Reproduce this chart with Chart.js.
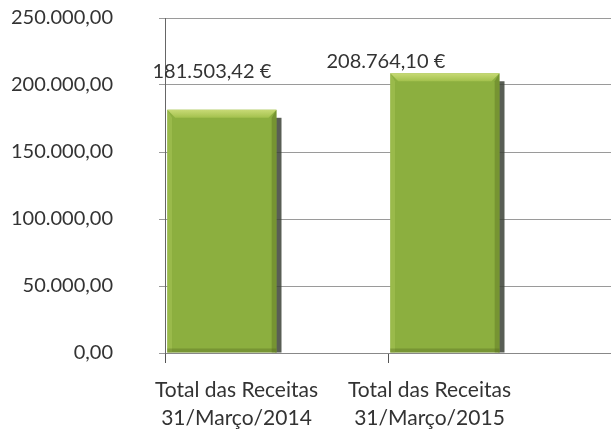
<!DOCTYPE html>
<html><head><meta charset="utf-8">
<script src="https://cdn.jsdelivr.net/npm/chart.js@4.4.1/dist/chart.umd.min.js"></script>
<style>
html,body{margin:0;padding:0;background:#fff;}
#wrap{width:611px;height:435px;position:relative;}
</style></head>
<body><div id="wrap"><canvas id="c" width="611" height="435"></canvas></div>
<script>
const categories = [["Total das Receitas", "31/Março/2014"], ["Total das Receitas", "31/Março/2015"]];
const receitas = [181503.42, 208764.10];
const valueLabels = ["181.503,42 €", "208.764,10 €"];
const yTicks = [0, 50000, 100000, 150000, 200000, 250000];

const fmt = v => Math.round(v).toString().replace(/\B(?=(\d{3})+(?!\d))/g, ".") + ",00";

const GREEN = '#8caf3f';
const FONT = 'Lato, "Open Sans", sans-serif';

const decor = {
  id: 'decor',
  beforeDatasetsDraw(chart) {
    const ctx = chart.ctx;
    const meta = chart.getDatasetMeta(0);
    ctx.save();
    meta.data.forEach(b => {
      const r = b.x + b.width / 2;
      ctx.fillStyle = 'rgba(60,66,55,0.85)';
      ctx.fillRect(r - 1, b.y + 8, 6, b.base - b.y - 8);
    });
    ctx.restore();
  },
  afterDatasetsDraw(chart) {
    const ctx = chart.ctx;
    const meta = chart.getDatasetMeta(0);
    ctx.save();
    meta.data.forEach(b => {
      const w = b.width, l = b.x - w / 2, r = b.x + w / 2, t = b.y;
      const bev = 8;
      const g = ctx.createLinearGradient(0, t, 0, t + bev);
      g.addColorStop(0, '#c8da76');
      g.addColorStop(1, '#a3c14d');
      ctx.fillStyle = g;
      ctx.beginPath();
      ctx.moveTo(l, t); ctx.lineTo(r, t); ctx.lineTo(r - bev, t + bev); ctx.lineTo(l + bev, t + bev); ctx.closePath();
      ctx.fill();
      ctx.fillStyle = 'rgba(170,200,90,0.45)';
      ctx.beginPath();
      ctx.moveTo(l, t); ctx.lineTo(l + bev * 0.6, t + bev); ctx.lineTo(l + bev * 0.6, b.base); ctx.lineTo(l, b.base); ctx.closePath();
      ctx.fill();
      ctx.fillStyle = 'rgba(90,115,35,0.45)';
      ctx.beginPath();
      ctx.moveTo(r, t); ctx.lineTo(r - bev * 0.6, t + bev); ctx.lineTo(r - bev * 0.6, b.base); ctx.lineTo(r, b.base); ctx.closePath();
      ctx.fill();
      ctx.fillStyle = 'rgba(80,100,30,0.35)';
      ctx.fillRect(l, b.base - 4, w, 4);
    });
    const o = chart.options.plugins.decor;
    ctx.fillStyle = '#333';
    ctx.font = '20px ' + FONT;
    ctx.textAlign = 'center';
    ctx.textBaseline = 'middle';
    meta.data.forEach((b, i) => {
      ctx.fillText(valueLabels[i], b.x + o.labelDx[i], b.y + o.labelDy[i]);
    });
    const xs = chart.scales.x;
    ctx.font = '21px ' + FONT;
    categories.forEach((lines, i) => {
      const cx = xs.getPixelForValue(i) + o.catDx[i];
      lines.forEach((s, j) => ctx.fillText(s, cx, xs.bottom + o.catY0 + j * o.catLine));
    });
    ctx.restore();
  }
};

new Chart(document.getElementById('c'), {
  type: 'bar',
  data: {
    labels: categories,
    datasets: [
      { data: receitas, backgroundColor: GREEN, borderWidth: 0, categoryPercentage: 0.98, barPercentage: 1.0 },
      { data: [null, null], backgroundColor: 'rgba(0,0,0,0)', categoryPercentage: 0.98, barPercentage: 1.0 }
    ]
  },
  options: {
    responsive: false,
    animation: false,
    layout: { padding: { left: 8, top: 18, right: 0, bottom: 72 } },
    plugins: {
      legend: { display: false },
      tooltip: { enabled: false },
      decor: { labelDx: [-10, -59], labelDy: [-38, -12], catDx: [-40, -70], catY0: 27, catLine: 28 }
    },
    scales: {
      x: {
        ticks: { display: false },
        grid: { drawOnChartArea: false, drawTicks: true, tickLength: 10, color: '#555', offset: true },
        border: { display: true, color: '#888', width: 1 }
      },
      y: {
        min: 0, max: 250000,
        afterBuildTicks: s => { s.ticks = yTicks.map(v => ({ value: v })); },
        afterFit: s => { s.width = 157; s.paddingTop = 0; s.paddingBottom = 0; },
        ticks: { callback: v => fmt(v), font: { family: FONT, size: 20 }, color: '#333', padding: 46 },
        grid: { color: '#9a9a9a', lineWidth: 1, tickLength: 6 },
        border: { display: true, color: '#666', width: 1 }
      }
    }
  },
  plugins: [decor]
});
</script></body></html>
